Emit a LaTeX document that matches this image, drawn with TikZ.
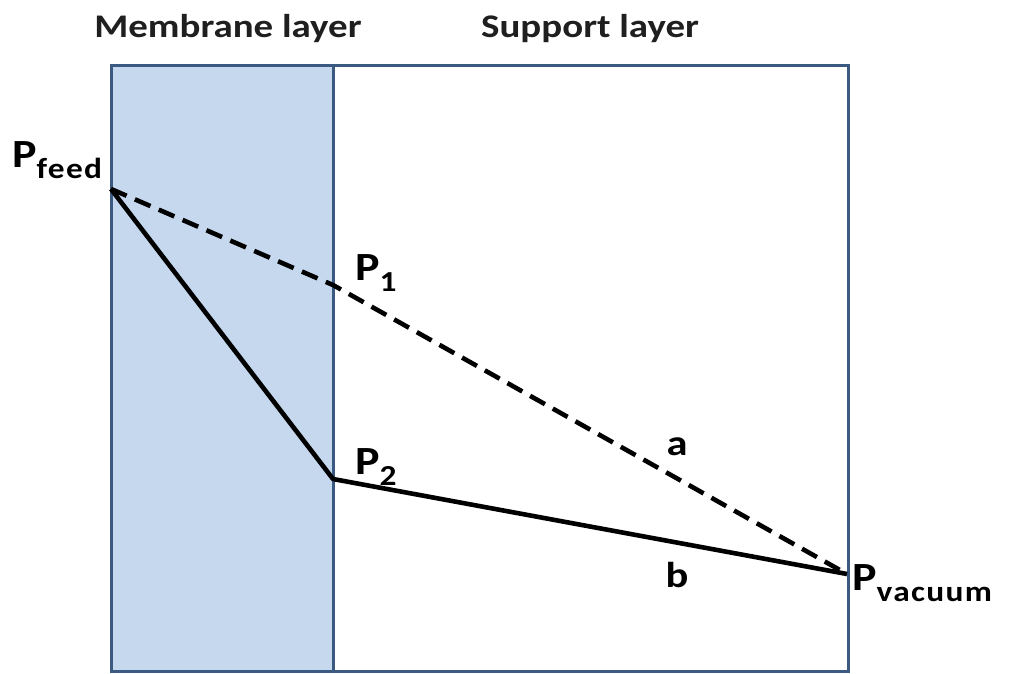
\documentclass[tikz,border=0pt]{standalone}
\usepackage{graphicx}
\usepackage{fontspec}
\setmainfont{Carlito}
\definecolor{memfill}{HTML}{C5D8EE}
\definecolor{frame}{HTML}{3B5A82}
\newcommand{\Psub}[1]{\scalebox{1.15}[1]{\fontsize{40}{40}\selectfont\bfseries P\raisebox{-11pt}{\fontsize{29}{29}\selectfont\addfontfeatures{LetterSpace=4}#1}}}
\newcommand{\Wide}[1]{\scalebox{1.18}[1]{#1}}
\begin{document}
\begin{tikzpicture}[x=1pt,y=-1pt,
  layer/.style={draw=frame,line width=3pt},
  title/.style={font=\fontsize{33}{33}\selectfont\bfseries,text=black!88,anchor=base,inner sep=0pt},
  plabel/.style={anchor=base west,inner sep=0pt},
  letter/.style={font=\fontsize{36}{36}\selectfont\bfseries,inner sep=0pt,anchor=base},
  solidline/.style={line width=4.6pt,line join=round},
  dashline/.style={line width=4.6pt,dash pattern=on 17pt off 9pt}]
\useasboundingbox (0,0) rectangle (1013,673);
\fill[white] (0,0) rectangle (1013,673);
\fill[memfill] (111,65) rectangle (333,671);
\draw[layer] (111,65) rectangle (848,671);
\draw[layer] (333,65) -- (333,671);
\node[title] (tmem) at (228,37) {\Wide{Membrane layer}};
\node[title] (tsup) at (590,37) {\Wide{Support layer}};
\coordinate (pf) at (111,189);
\coordinate (p1) at (333,285);
\coordinate (p2) at (333,479);
\coordinate (pv) at (847,574);
\draw[dashline] (pf) -- (p1) -- (pv);
\draw[solidline] (pf) -- (p2) -- (pv);
\node[plabel] (lf) at (12,167) {\Psub{feed}};
\node[plabel] (l1) at (355,280) {\Psub{1}};
\node[plabel] (l2) at (355,474) {\Psub{2}};
\node[plabel] (lv) at (852,590) {\Psub{vacuum}};
\node[letter] (la) at (677,455) {\Wide{a}};
\node[letter] (lb) at (677,587) {\Wide{b}};
\end{tikzpicture}
\end{document}
